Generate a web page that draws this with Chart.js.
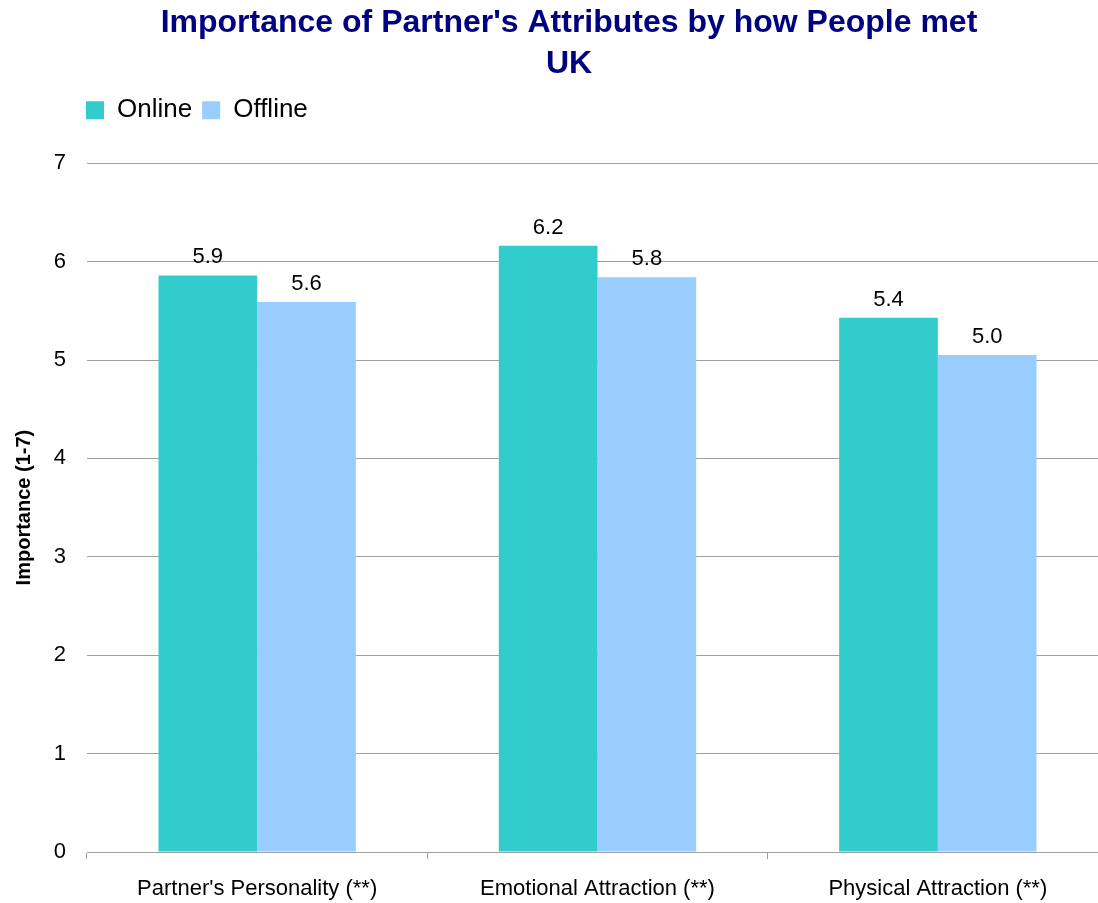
<!DOCTYPE html>
<html>
<head>
<meta charset="utf-8">
<script src="https://cdn.jsdelivr.net/npm/chart.js@4/dist/chart.umd.min.js"></script>
<style>
  body { margin: 0; background: #fff; }
  #wrap { width: 1098px; height: 903px; }
</style>
</head>
<body>
<div id="wrap"><canvas id="chart"></canvas></div>
<script>
const categories = ["Partner's Personality (**)", "Emotional Attraction (**)", "Physical Attraction (**)"];
const online = [5.86, 6.16, 5.43];
const offline = [5.59, 5.84, 5.05];
const yTicks = [0, 1, 2, 3, 4, 5, 6, 7];

const font = "'Liberation Sans', Arial, sans-serif";
const gridColor = "#a0a0a0";

// value labels above each bar
const barLabels = {
	id: "barLabels",
	afterDatasetsDraw(chart) {
		const ctx = chart.ctx;
		ctx.save();
		ctx.font = "22px " + font;
		ctx.fillStyle = "#000";
		ctx.textAlign = "center";
		ctx.textBaseline = "bottom";
		chart.data.datasets.forEach((ds, i) => {
			chart.getDatasetMeta(i).data.forEach((bar, j) => {
				ctx.fillText(ds.data[j].toFixed(1), bar.x, bar.y - 7);
			});
		});
		ctx.restore();
	},
};

// legend gets extra room below it, legend and title nudged to where the original has them,
// and the plot runs a little past the right edge like in the original
const nudge = {
	id: "nudge",
	beforeLayout(chart) {
		const lg = chart.legend;
		if (lg && !lg._padded) {
			const fit = lg.fit;
			lg.fit = function () {
				fit.call(this);
				this.height += 30;
			};
			lg._padded = true;
		}
	},
	afterLayout(chart) {
		chart.legend.left = 76;
		chart.titleBlock.left = 40;
		const right = 1108;
		chart.chartArea.right = right;
		chart.chartArea.width = right - chart.chartArea.left;
		const x = chart.scales.x;
		x.right = right;
		x.width = right - x.left;
		x.configure();
		const y = chart.scales.y;
		y.configure();
	},
};

new Chart(document.getElementById("chart"), {
	type: "bar",
	data: {
		labels: categories,
		datasets: [
			{
				label: "Online",
				data: online,
				backgroundColor: "#33CCCC",
				hoverBackgroundColor: "#33CCCC",
				categoryPercentage: 0.58,
				barPercentage: 1,
			},
			{
				label: "Offline",
				data: offline,
				backgroundColor: "#99CCFF",
				hoverBackgroundColor: "#99CCFF",
				categoryPercentage: 0.58,
				barPercentage: 1,
			},
		],
	},
	options: {
		responsive: true,
		maintainAspectRatio: false,
		animation: false,
		layout: { padding: { left: 0, right: 0, top: 0, bottom: 0 } },
		plugins: {
			title: {
				display: true,
				text: ["Importance of Partner's Attributes by how People met", "UK"],
				color: "#000080",
				font: { family: font, size: 32, weight: "bold", lineHeight: 1.3 },
				padding: { top: 2, bottom: 2 },
			},
			legend: {
				align: "start",
				labels: {
					color: "#000",
					font: { family: font, size: 26 },
					boxWidth: 18,
					boxHeight: 18,
					padding: 10,
				},
			},
			tooltip: { enabled: false },
		},
		scales: {
			x: {
				afterFit(scale) {
					scale.height = 51;
				},
				grid: {
					display: true,
					drawOnChartArea: false,
					offset: true,
					color: gridColor,
					tickLength: 7,
				},
				border: { color: gridColor },
				ticks: { color: "#000", font: { family: font, size: 22 }, padding: 17 },
			},
			y: {
				min: yTicks[0],
				max: yTicks[yTicks.length - 1],
				afterBuildTicks(scale) {
					scale.ticks = yTicks.map((v) => ({ value: v }));
				},
				afterFit(scale) {
					scale.width = 87;
				},
				grid: { color: gridColor, drawTicks: false },
				border: { display: false },
				ticks: { color: "#000", font: { family: font, size: 22 }, padding: 21 },
				title: {
					display: true,
					text: "Importance (1-7)",
					color: "#000",
					font: { family: font, size: 20, weight: "bold" },
					padding: { top: 12, bottom: 0 },
				},
			},
		},
	},
	plugins: [barLabels, nudge],
});
</script>
</body>
</html>
